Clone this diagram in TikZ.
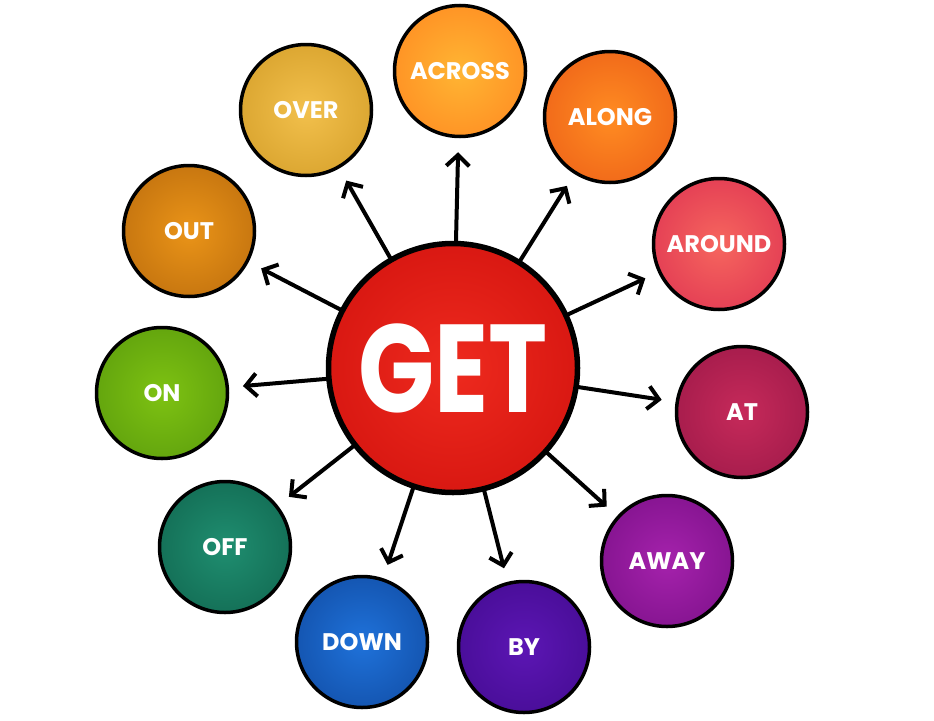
\documentclass[tikz,border=0pt]{standalone}
\usepackage{fontspec}
\setmainfont{Poppins}
\usepackage{xcolor}
\usepackage{graphicx}
\usepackage{tikz}
\usetikzlibrary{arrows.meta}

\definecolor{getin}{HTML}{EE2A1E}   \definecolor{getout}{HTML}{C40606}
\definecolor{acrossin}{HTML}{FFB533} \definecolor{acrossout}{HTML}{FF7418}
\definecolor{alongin}{HTML}{FF8C22}  \definecolor{alongout}{HTML}{E44A12}
\definecolor{aroundin}{HTML}{F6665E} \definecolor{aroundout}{HTML}{D41C4C}
\definecolor{atin}{HTML}{C62A5A}     \definecolor{atout}{HTML}{8A1040}
\definecolor{awayin}{HTML}{A522AC}   \definecolor{awayout}{HTML}{690878}
\definecolor{byin}{HTML}{5C16B4}     \definecolor{byout}{HTML}{380680}
\definecolor{downin}{HTML}{1F72DA}   \definecolor{downout}{HTML}{0A3A8A}
\definecolor{offin}{HTML}{1F8E70}    \definecolor{offout}{HTML}{0A5440}
\definecolor{onin}{HTML}{7EC212}     \definecolor{onout}{HTML}{4A8A0A}
\definecolor{outin}{HTML}{EA9418}    \definecolor{outout}{HTML}{A65A08}
\definecolor{overin}{HTML}{F2C04C}   \definecolor{overout}{HTML}{C68E18}

\colorlet{ballin}{white}
\colorlet{ballout}{black}
\pgfdeclareradialshading[ballin,ballout]{ball}{\pgfpointorigin}
  {color(0bp)=(ballin); color(50bp)=(ballout); color(72bp)=(ballout)}

\begin{document}
\begin{tikzpicture}[x=1pt,y=-1pt,
   ball/.style={/utils/exec={\colorlet{ballin}{#1in}\colorlet{ballout}{#1out}},
               shading=ball},
   word/.style={circle,draw=black,line width=3.5pt,minimum size=131pt,inner sep=0pt,
               text=white,font=\bfseries\fontsize{24}{24}\selectfont,ball=#1},
   hub/.style={circle,draw=black,line width=5.5pt,minimum size=249pt,inner sep=0pt,
               text=white,font=\bfseries\fontsize{100}{100}\selectfont,ball=#1},
   arr/.style={-{Straight Barb[length=11pt,width=23pt]},line width=4pt,
               line cap=round,shorten >=14pt}
  ]
  \useasboundingbox (0,0) rectangle (934,720);

  \node[hub=get] (get) at (453,368) {\scalebox{1}[1.25]{GET}};

  \node[word=across] (across) at (460,71)  {ACROSS};
  \node[word=along]  (along)  at (610,117) {ALONG};
  \node[word=around] (around) at (719,244) {AROUND};
  \node[word=at]     (at)     at (742,412) {AT};
  \node[word=away]   (away)   at (667,561) {AWAY};
  \node[word=by]     (by)     at (524,647) {BY};
  \node[word=down]   (down)   at (362,642) {DOWN};
  \node[word=off]    (off)    at (225,547) {OFF};
  \node[word=on]     (on)     at (162,393) {ON};
  \node[word=out]    (out)    at (189,231) {OUT};
  \node[word=over]   (over)   at (306,110) {OVER};

  % spokes
  \foreach \w in {across,along,around,at,away,by,down,off,on,out,over}
    \draw[arr] (get) -- (\w);
\end{tikzpicture}
\end{document}
